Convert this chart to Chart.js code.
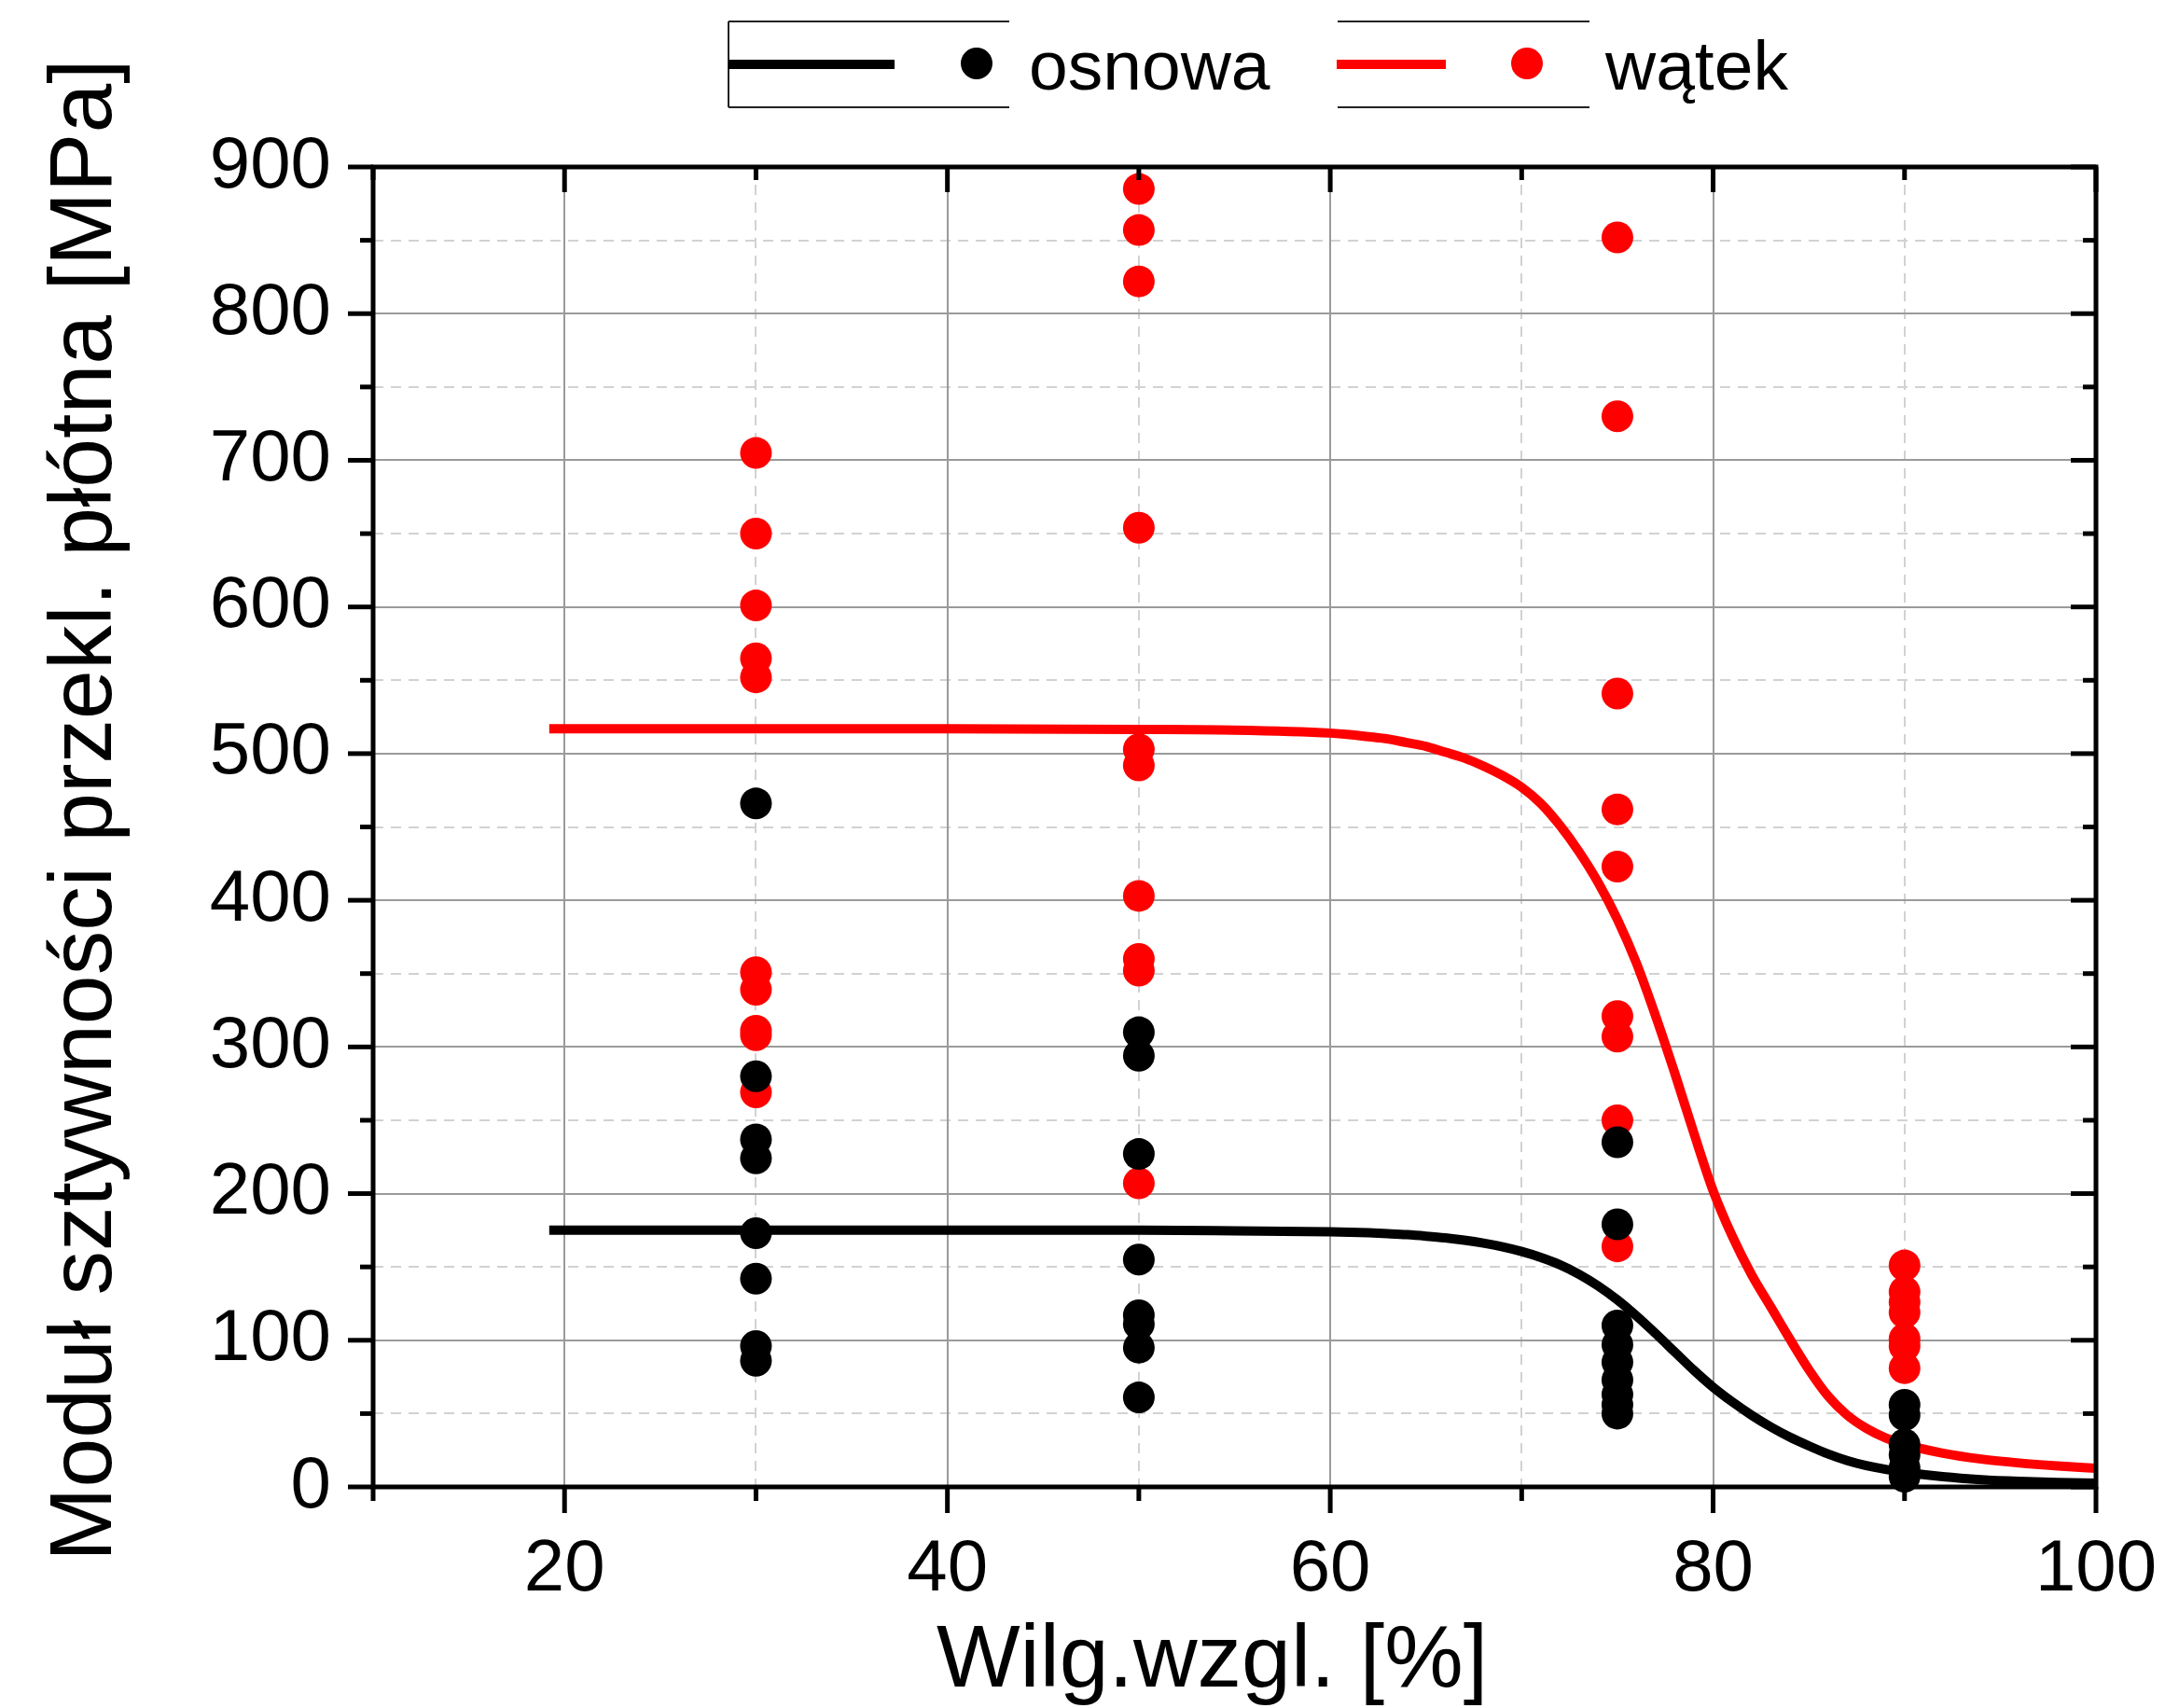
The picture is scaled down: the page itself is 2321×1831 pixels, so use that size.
<!DOCTYPE html>
<html>
<head>
<meta charset="utf-8">
<script src="https://cdn.jsdelivr.net/npm/chart.js@4.4.0/dist/chart.umd.min.js"></script>
<style>
html,body{margin:0;padding:0;background:#ffffff;}
#c{display:block;}
</style>
</head>
<body>
<canvas id="c" width="2321" height="1831" style="width:2321px;height:1831px"></canvas>
<script>
// ---------- data ----------
const humidityLevels = [30, 50, 75, 90];

const osnowaValues = [
  [466, 280, 237, 224, 173, 142, 96, 86],
  [310, 294, 227, 155, 117, 111, 95, 61],
  [235, 179, 110, 97, 85, 73, 63, 56, 50],
  [56, 49, 29, 22, 13, 7]
];

const watekValues = [
  [705, 650, 601, 565, 552, 351, 339, 311, 308, 269],
  [885, 857, 822, 654, 503, 492, 403, 360, 352, 207],
  [852, 730, 541, 462, 423, 321, 307, 250, 164],
  [151, 133, 126, 119, 101, 96, 81]
];

const fitX = [19.2, 30, 40, 50, 55, 60, 61, 62, 63, 64, 65, 66, 67, 68, 69, 70, 71, 72, 73, 74, 75, 76, 77, 78, 79, 80, 81, 82, 83, 84, 85, 86, 87, 88, 89, 90, 92, 94, 96, 98, 100];
const osnowaFit = [175, 175, 175, 175, 174.6, 174, 173.7, 173.3, 172.7, 172, 171, 169.8, 168.2, 166.2, 163.7, 160.5, 156.5, 151.5, 145, 137, 127.5, 116.5, 104.5, 92, 79.5, 68, 58, 49, 41, 34, 28, 22.5, 18, 14.5, 12, 10, 7, 5, 3.8, 3, 2.5];
const watekFit  = [517, 517, 517, 516.5, 516, 514, 513, 511.5, 510, 507.5, 505, 501, 497, 491.5, 485, 477, 466, 451, 433, 412, 387, 357, 321, 282, 241, 202, 171, 145, 123, 101, 80, 62, 49, 40, 33.5, 29, 23, 19, 16.3, 14.3, 12.7];

const xMajorTicks = [20, 40, 60, 80, 100];
const xMinorTicks = [10, 30, 50, 70, 90];
const yMajorTicks = [0, 100, 200, 300, 400, 500, 600, 700, 800, 900];
const yMinorTicks = [50, 150, 250, 350, 450, 550, 650, 750, 850];

const seriesNames = ['osnowa', 'wątek'];
const seriesColors = ['#000000', '#ff0000'];
const xTitle = 'Wilg.wzgl. [%]';
const yTitle = 'Moduł sztywności przekl. płótna [MPa]';

// ---------- build datasets ----------
function toPoints(levels, values) {
  const pts = [];
  levels.forEach((h, i) => values[i].forEach(v => pts.push({x: h, y: v})));
  return pts;
}
function toCurve(xs, ys) { return xs.map((x, i) => ({x: x, y: ys[i]})); }

// nudge a scale's own title drawing (Origin places titles slightly off-centre)
function nudgeTitle(scale, dx, dy) {
  if (scale._titleNudged) return;
  const orig = scale.drawTitle.bind(scale);
  scale.drawTitle = function () {
    const c = this.ctx;
    c.save(); c.translate(dx, dy); orig(); c.restore();
  };
  scale._titleNudged = true;
}

const FONT = '"Liberation Sans", Arial, sans-serif';
Chart.defaults.font.family = FONT;
Chart.defaults.color = '#000';

const framePlugin = {
  id: 'originFrame',
  beforeDatasetsDraw(chart) {
    const {ctx, chartArea: a, scales: {x, y}} = chart;
    ctx.save();
    ctx.lineWidth = 2;
    // minor dashed grid
    ctx.strokeStyle = '#d2d2d2';
    ctx.setLineDash([11, 8]);
    xMinorTicks.forEach(v => {
      const px = Math.round(x.getPixelForValue(v));
      if (px <= a.left + 2 || px >= a.right - 2) return;
      ctx.beginPath(); ctx.moveTo(px, a.top); ctx.lineTo(px, a.bottom); ctx.stroke();
    });
    yMinorTicks.forEach(v => {
      const py = Math.round(y.getPixelForValue(v));
      ctx.beginPath(); ctx.moveTo(a.left, py); ctx.lineTo(a.right, py); ctx.stroke();
    });
    // major solid grid
    ctx.setLineDash([]);
    ctx.strokeStyle = '#9a9a9a';
    xMajorTicks.forEach(v => {
      const px = Math.round(x.getPixelForValue(v));
      if (px <= a.left + 2 || px >= a.right - 2) return;
      ctx.beginPath(); ctx.moveTo(px, a.top); ctx.lineTo(px, a.bottom); ctx.stroke();
    });
    yMajorTicks.forEach(v => {
      const py = Math.round(y.getPixelForValue(v));
      if (py <= a.top + 2 || py >= a.bottom - 2) return;
      ctx.beginPath(); ctx.moveTo(a.left, py); ctx.lineTo(a.right, py); ctx.stroke();
    });
    ctx.restore();
  },
  afterDatasetsDraw(chart) {
    const {ctx, chartArea: a, scales: {x, y}} = chart;
    ctx.save();
    ctx.strokeStyle = '#000';
    ctx.lineWidth = 5;
    ctx.lineCap = 'butt';
    const MAJ = 27, MIN = 14;
    const tick = (x1, y1, x2, y2) => { ctx.beginPath(); ctx.moveTo(x1, y1); ctx.lineTo(x2, y2); ctx.stroke(); };
    xMajorTicks.forEach(v => {
      const px = x.getPixelForValue(v);
      tick(px, a.bottom, px, a.bottom + MAJ + 1);
      tick(px, a.top, px, a.top + MAJ);
    });
    xMinorTicks.forEach(v => {
      const px = x.getPixelForValue(v);
      tick(px, a.bottom, px, a.bottom + MIN + 1);
      tick(px, a.top, px, a.top + MIN);
    });
    yMajorTicks.forEach(v => {
      const py = y.getPixelForValue(v);
      tick(a.left - MAJ, py, a.left, py);
      tick(a.right - MAJ, py, a.right, py);
    });
    yMinorTicks.forEach(v => {
      const py = y.getPixelForValue(v);
      tick(a.left - MIN, py, a.left, py);
      tick(a.right - MIN, py, a.right, py);
    });
    ctx.lineJoin = 'miter';
    ctx.strokeRect(a.left, a.top, a.right - a.left, a.bottom - a.top);
    ctx.restore();
  },
  afterDraw(chart) {
    const ctx = chart.ctx;
    ctx.save();
    // thin legend frames
    ctx.strokeStyle = '#222';
    ctx.lineWidth = 2;
    const hl = (x1, x2, yy) => { ctx.beginPath(); ctx.moveTo(x1, yy); ctx.lineTo(x2, yy); ctx.stroke(); };
    hl(781, 1082, 23); hl(781, 1082, 115);
    hl(1434, 1704, 23); hl(1434, 1704, 115);
    ctx.beginPath(); ctx.moveTo(781, 23); ctx.lineTo(781, 115); ctx.stroke();
    const items = [
      {lx1: 781, lx2: 959, dot: 1047, tx: 1103},
      {lx1: 1433, lx2: 1550, dot: 1637, tx: 1721}
    ];
    items.forEach((it, i) => {
      const col = chart.data.datasets[2 + i].borderColor;
      ctx.strokeStyle = col;
      ctx.lineWidth = 10;
      ctx.beginPath(); ctx.moveTo(it.lx1, 69); ctx.lineTo(it.lx2, 69); ctx.stroke();
      ctx.fillStyle = chart.data.datasets[i].backgroundColor;
      ctx.beginPath(); ctx.arc(it.dot, 68, 17, 0, Math.PI * 2); ctx.fill();
      ctx.fillStyle = '#000';
      ctx.font = '75px ' + FONT;
      ctx.textBaseline = 'alphabetic';
      ctx.textAlign = 'left';
      ctx.fillText(seriesNames[i], it.tx, 96);
    });
    ctx.restore();
  }
};

new Chart(document.getElementById('c'), {
  type: 'scatter',
  data: {
    datasets: [
      {label: seriesNames[0], data: toPoints(humidityLevels, osnowaValues), backgroundColor: seriesColors[0], borderWidth: 0, pointRadius: 17, pointHoverRadius: 17, showLine: false, clip: false},
      {label: seriesNames[1], data: toPoints(humidityLevels, watekValues), backgroundColor: seriesColors[1], borderWidth: 0, pointRadius: 17, pointHoverRadius: 17, showLine: false, clip: false},
      {label: seriesNames[0] + ' fit', data: toCurve(fitX, osnowaFit), borderColor: seriesColors[0], backgroundColor: seriesColors[0], borderWidth: 10, pointRadius: 0, showLine: true, cubicInterpolationMode: 'monotone', fill: false, clip: false},
      {label: seriesNames[1] + ' fit', data: toCurve(fitX, watekFit), borderColor: seriesColors[1], backgroundColor: seriesColors[1], borderWidth: 10, pointRadius: 0, showLine: true, cubicInterpolationMode: 'monotone', fill: false, clip: false}
    ]
  },
  options: {
    responsive: false,
    animation: false,
    devicePixelRatio: 1,
    events: [],
    layout: {padding: {left: 0, right: 74, top: 179, bottom: 0}},
    plugins: {legend: {display: false}, tooltip: {enabled: false}, title: {display: false}},
    scales: {
      x: {
        type: 'linear', position: 'bottom', min: 10, max: 100,
        afterFit: s => { s.height = 237; s.paddingLeft = 0; s.paddingRight = 0; nudgeTitle(s, -24, 0); },
        grid: {display: false, drawTicks: false},
        border: {display: false},
        ticks: {
          stepSize: 10, autoSkip: false, maxRotation: 0, minRotation: 0,
          padding: 50, color: '#000',
          font: {size: 78, lineHeight: 1},
          callback: v => xMajorTicks.includes(v) ? String(v) : ''
        },
        title: {display: true, text: xTitle, color: '#000', font: {size: 95, lineHeight: 1}, padding: {top: 0, bottom: 2}}
      },
      y: {
        type: 'linear', position: 'left', min: 0, max: 900,
        afterFit: s => { s.width = 400; nudgeTitle(s, 0, -18); },
        grid: {display: false, drawTicks: false},
        border: {display: false},
        ticks: {
          stepSize: 50, autoSkip: false, padding: 45, color: '#000',
          font: {size: 78, lineHeight: 1},
          callback: v => yMajorTicks.includes(v) ? String(v) : ''
        },
        title: {display: true, text: yTitle, color: '#000', font: {size: 95, lineHeight: 1}, padding: {top: 45, bottom: 0}}
      }
    }
  },
  plugins: [framePlugin]
});
</script>
</body>
</html>
